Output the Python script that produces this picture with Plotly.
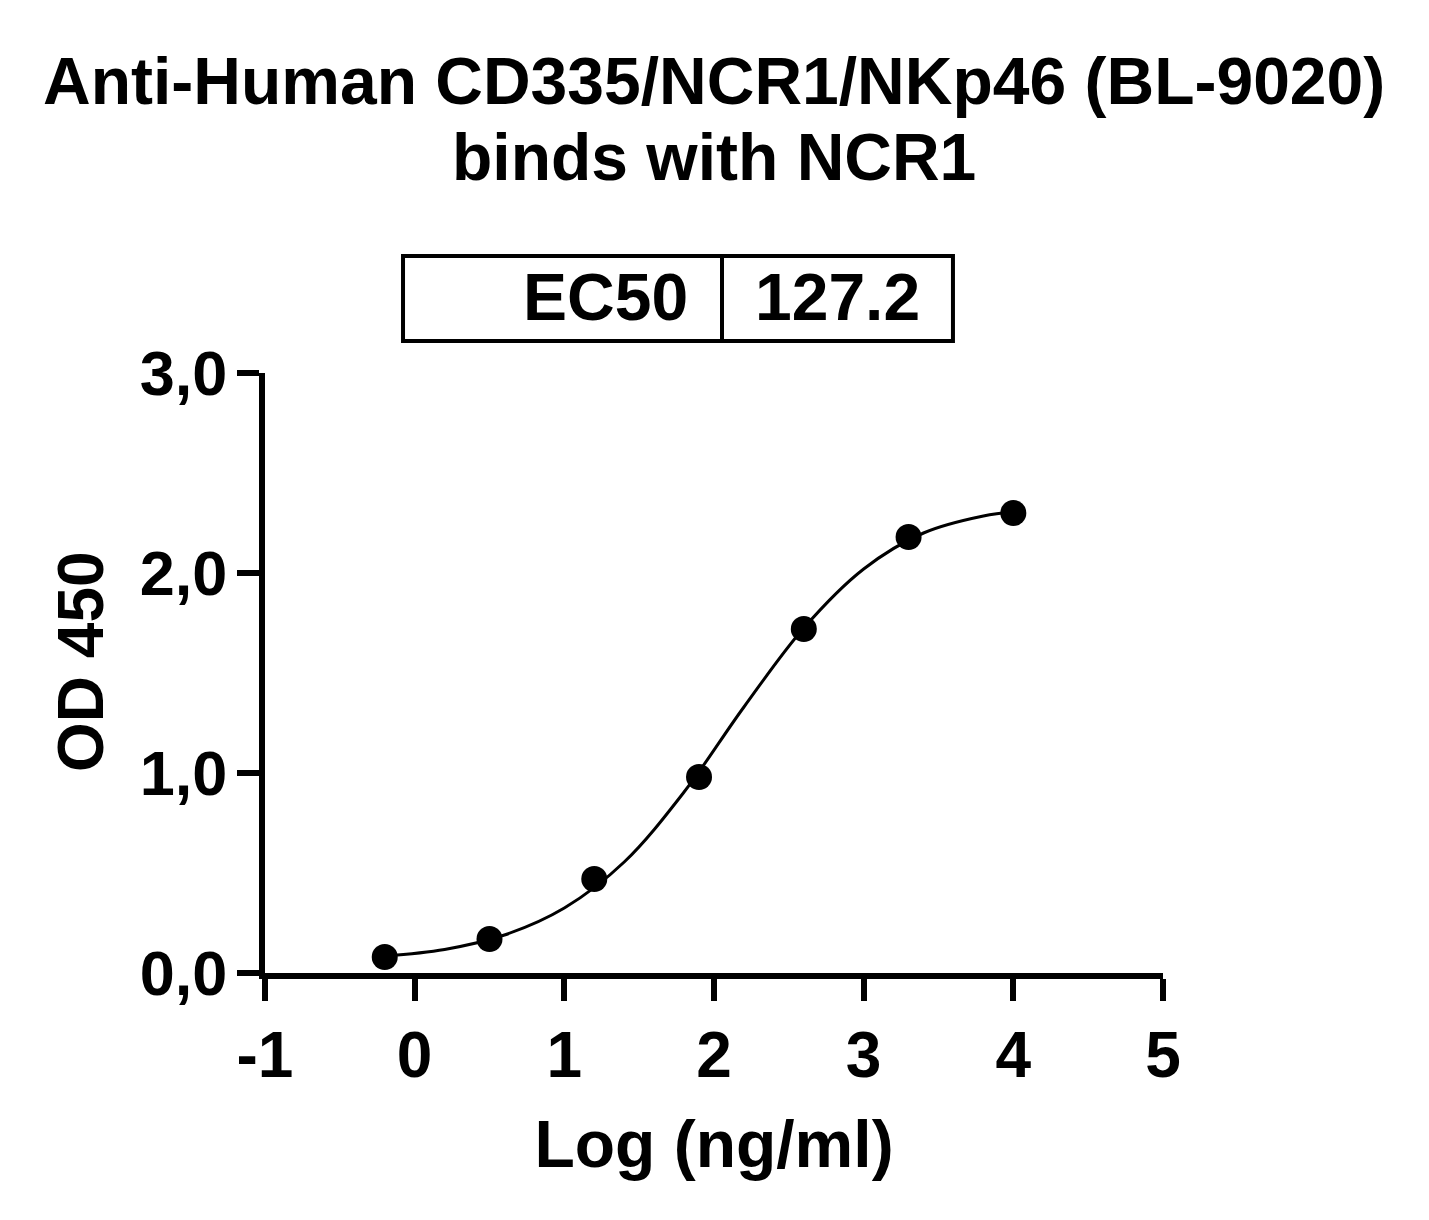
import plotly.graph_objects as go

# Measured data points (log concentration, OD450)
log_conc = [-0.2, 0.5, 1.2, 1.9, 2.6, 3.3, 4.0]
od450 = [0.08, 0.17, 0.47, 0.98, 1.72, 2.18, 2.30]

# Fitted curve
curve_x = [-0.2, 0.2, 0.6, 1.0, 1.4, 1.8, 2.2, 2.6, 3.0, 3.4, 3.8, 4.0]
curve_y = [0.085, 0.118, 0.19, 0.325, 0.555, 0.905, 1.33, 1.725, 2.02, 2.20, 2.285, 2.305]

x_ticks = [-1, 0, 1, 2, 3, 4, 5]
x_tick_labels = ["-1", "0", "1", "2", "3", "4", "5"]
y_ticks = [0, 1, 2, 3]
y_tick_labels = ["0,0", "1,0", "2,0", "3,0"]

title_line1 = "Anti-Human CD335/NCR1/NKp46 (BL-9020)"
title_line2 = "binds with NCR1"
x_title = "Log (ng/ml)"
y_title = "OD 450"
ec50_label = "EC50"
ec50_value = "127.2"

FONT = "Liberation Sans, Arial, sans-serif"

fig = go.Figure()
fig.add_trace(go.Scatter(x=curve_x, y=curve_y, mode="lines",
                         line=dict(color="black", width=3, shape="spline"),
                         hoverinfo="skip", showlegend=False))
fig.add_trace(go.Scatter(x=log_conc, y=od450, mode="markers",
                         marker=dict(color="black", size=26),
                         showlegend=False, cliponaxis=False))

axis_common = dict(showline=True, linecolor="black", linewidth=6,
                   ticks="outside", ticklen=22, tickwidth=6, tickcolor="black",
                   showgrid=False, zeroline=False)

fig.update_xaxes(range=[-1, 5], tickvals=x_ticks, ticktext=x_tick_labels, ticklabelstandoff=-1,
                 tickfont=dict(family=FONT, size=64, color="black", weight="bold"),
                 title=dict(text="<b>" + x_title + "</b>", font=dict(family=FONT, size=66, color="black"),
                            standoff=33),
                 **axis_common)
fig.update_yaxes(range=[0, 3], tickvals=y_ticks, ticktext=y_tick_labels, ticklabelstandoff=-3,
                 tickfont=dict(family=FONT, size=63, color="black", weight="bold"),
                 **axis_common)

# Y axis title as rotated annotation
fig.add_annotation(text="<b>" + y_title + "</b>", xref="paper", yref="paper", x=-0.2049, y=0.52,
                   xanchor="center", yanchor="middle", textangle=-90, showarrow=False,
                   font=dict(family=FONT, size=64, color="black"))

# EC50 table box
box_x0, box_xm, box_x1 = 0.1537, 0.5089, 0.7661
box_y0, box_y1 = 1.0533, 1.195
fig.add_shape(type="rect", xref="paper", yref="paper", x0=box_x0, x1=box_x1, y0=box_y0, y1=box_y1,
              line=dict(color="black", width=4))
fig.add_shape(type="line", xref="paper", yref="paper", x0=box_xm, x1=box_xm, y0=box_y0, y1=box_y1,
              line=dict(color="black", width=4))

annots = [
    dict(text="<b>" + title_line1 + "</b>", x=0.5, y=1.487, size=66),
    dict(text="<b>" + title_line2 + "</b>", x=0.5, y=1.360, size=66),
]
for a in annots:
    fig.add_annotation(text=a["text"], xref="paper", yref="paper", x=a["x"], y=a["y"],
                       xanchor="center", yanchor="middle", showarrow=False,
                       font=dict(family=FONT, size=a["size"], color="black"))
fig.add_annotation(text="<b>" + ec50_label + "</b>", xref="paper", yref="paper", x=0.4733, y=1.127,
                   xanchor="right", yanchor="middle", showarrow=False,
                   font=dict(family=FONT, size=66, color="black"))
fig.add_annotation(text="<b>" + ec50_value + "</b>", xref="paper", yref="paper", x=0.637, y=1.127,
                   xanchor="center", yanchor="middle", showarrow=False,
                   font=dict(family=FONT, size=66, color="black"))

fig.update_layout(width=1429, height=1220,
                  margin=dict(l=257, r=274, t=365, b=255),
                  plot_bgcolor="white", paper_bgcolor="white",
                  showlegend=False)

fig.write_html("out.html")
